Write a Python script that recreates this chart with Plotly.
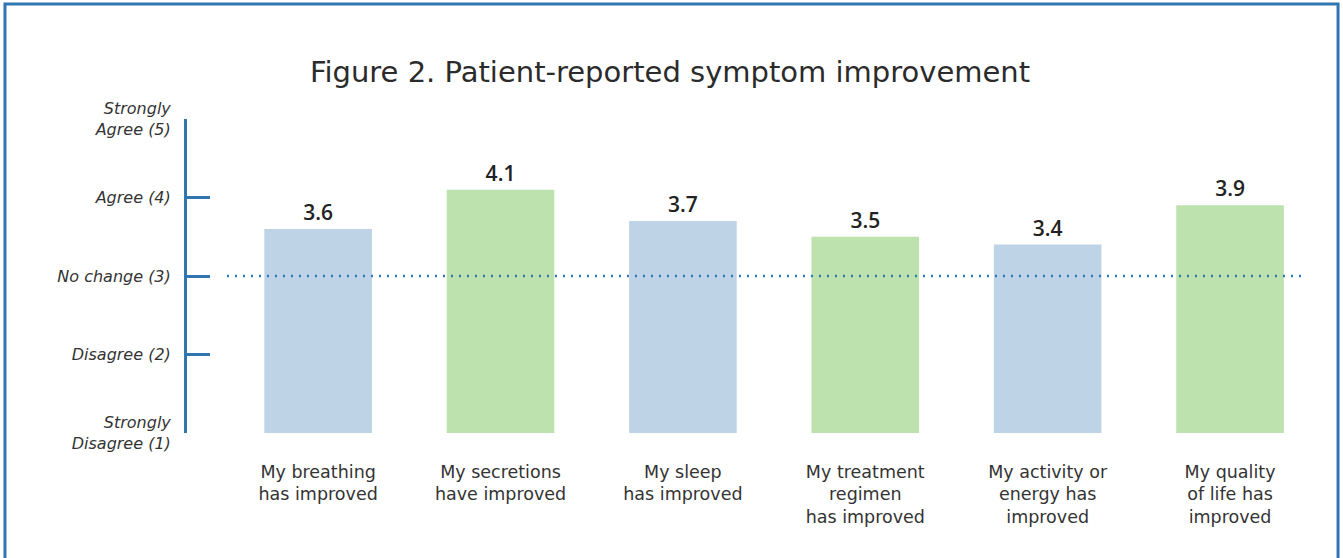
import plotly.graph_objects as go

categories = [
    "My breathing<br>has improved",
    "My secretions<br>have improved",
    "My sleep<br>has improved",
    "My treatment<br>regimen<br>has improved",
    "My activity or<br>energy has<br>improved",
    "My quality<br>of life has<br>improved",
]
scores = [3.6, 4.1, 3.7, 3.5, 3.4, 3.9]
score_labels = ["3.6", "4.1", "3.7", "3.5", "3.4", "3.9"]
bar_colors = ["#bfd3e6", "#bde2ad", "#bfd3e6", "#bde2ad", "#bfd3e6", "#bde2ad"]
scale_values = [1, 2, 3, 4, 5]
scale_labels = ["Strongly<br>Disagree (1)", "Disagree (2)", "No change (3)", "Agree (4)", "Strongly<br>Agree (5)"]
neutral_value = 3

BLUE = "#2f76b3"
FONT = "DejaVu Sans"
xpos = list(range(len(categories)))

fig = go.Figure()
fig.add_trace(go.Bar(
    x=xpos, y=scores, marker=dict(color=bar_colors, line=dict(width=0)),
    text=score_labels, textposition="outside", cliponaxis=False,
    textfont=dict(family="Open Sans", size=21, color="#222222", weight=600),
    hoverinfo="skip",
))

fig.add_shape(type="line", xref="x", yref="y", x0=-0.5, x1=5.4,
              y0=neutral_value, y1=neutral_value, layer="above",
              line=dict(color=BLUE, width=2.5, dash="2px,6px"))
# outer frame
fig.add_shape(type="rect", xref="paper", yref="paper", x0=-0.1631, x1=1.0314,
              y0=-0.6, y1=1.366, line=dict(color=BLUE, width=3), layer="below")

fig.update_layout(
    width=1343, height=558,
    margin=dict(l=187, r=40, t=119, b=125),
    plot_bgcolor="white", paper_bgcolor="white",
    showlegend=False,
    bargap=0.41,
    title=dict(text="Figure 2. Patient-reported symptom improvement",
               x=0.4989, xanchor="center", y=0.871, yanchor="middle",
               font=dict(family=FONT, size=29, color="#2b2b2b")),
    xaxis=dict(range=[-0.719, 5.4], tickvals=xpos, ticktext=categories,
               showline=False, showgrid=False, zeroline=False, ticks="",
               ticklabelstandoff=26,
               tickfont=dict(family=FONT, size=17.5, color="#333333")),
    yaxis=dict(range=[1, 5], tickvals=scale_values, ticktext=scale_labels,
               showgrid=False, zeroline=False, showline=True, linecolor=BLUE,
               linewidth=3, ticks="inside", ticklen=23, tickwidth=3, tickcolor=BLUE,
               ticklabelstandoff=10,
               tickfont=dict(family=FONT, size=16, color="#333333", style="italic")),
)

fig.write_html("out.html", config={"displayModeBar": False},
               post_script="document.body.style.margin='0';")
